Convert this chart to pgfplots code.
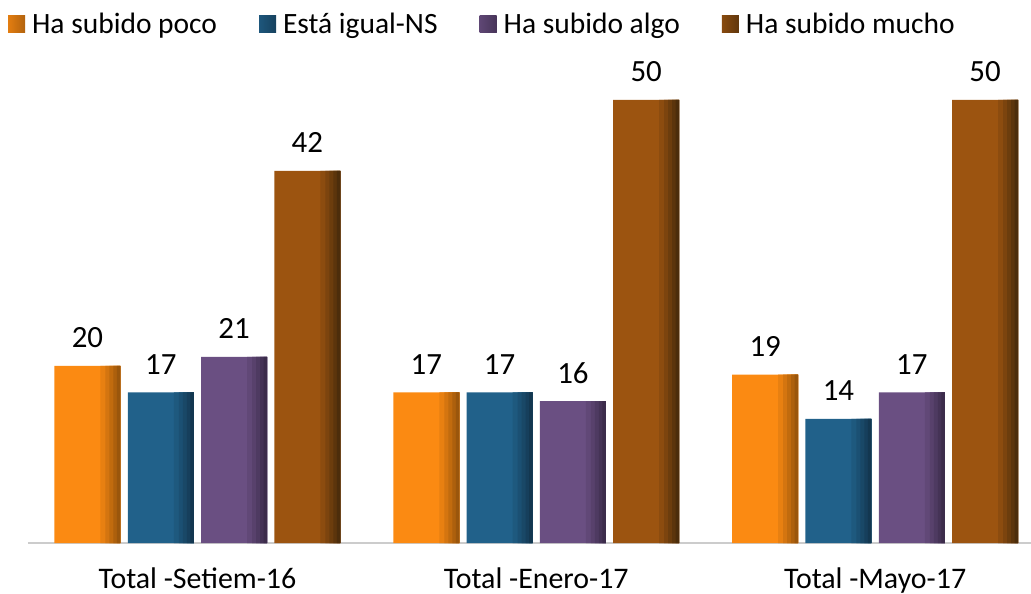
\documentclass[border=0pt]{standalone}
\usepackage{pgfplots}
\pgfplotsset{compat=1.18}
\usepackage{fontspec}
\setmainfont{Carlito}
\definecolor{cOr}{HTML}{FB8A12}
\definecolor{cOrD}{HTML}{9A560C}
\definecolor{cBl}{HTML}{21618A}
\definecolor{cBlD}{HTML}{133750}
\definecolor{cPu}{HTML}{6A4F82}
\definecolor{cPuD}{HTML}{3C2C4B}
\definecolor{cBr}{HTML}{9C5410}
\definecolor{cBrD}{HTML}{4C2D0B}
\pgfdeclarehorizontalshading{shOrL}{100bp}{color(0bp)=(cOr); color(100bp)=(cOrD)}
\pgfdeclarehorizontalshading{shBlL}{100bp}{color(0bp)=(cBl); color(100bp)=(cBlD)}
\pgfdeclarehorizontalshading{shPuL}{100bp}{color(0bp)=(cPu); color(100bp)=(cPuD)}
\pgfdeclarehorizontalshading{shBrL}{100bp}{color(0bp)=(cBr); color(100bp)=(cBrD)}
\pgfplotstableread{
x a b c d
0 20 17 21 42
1 17 17 16 50
2 19 14 17 50
}\datatab
\begin{document}
\begin{tikzpicture}
\useasboundingbox (0,0) rectangle (1031bp,594bp);
\begin{axis}[
  at={(28bp,51bp)}, anchor=south west,
  scale only axis, width=1003bp, height=487.3bp,
  xmin=-0.5, xmax=2.46, ymin=0, ymax=55,
  axis x line*=bottom, axis y line=none,
  x axis line style={draw=black!20, line width=1.5bp},
  xtick={0,1,2},
  xticklabels={Total -Setiem-16, Total -Enero-17, Total -Mayo-17},
  major tick length=0pt,
  xticklabel style={anchor=base, yshift=-45.5bp, font=\fontsize{30}{32}\selectfont},
  ytick=\empty,
  ybar, bar width=66bp,
  /pgf/number format/assume math mode=true,
  nodes near coords style={anchor=base, yshift=18bp, font=\fontsize{31}{33}\selectfont, text=black},
  legend columns=4,
  legend style={at={(axis description cs:-0.023,1.096)}, anchor=north west, draw=none,
    fill=none, font=\fontsize{29.6}{31}\selectfont,
    /tikz/every odd column/.append style={column sep=5bp},
    /tikz/every even column/.append style={column sep=40bp},
    cells={anchor=west}},
  legend cell align=left,
  clip=false,
]
% series 1
\addplot[draw=none, fill=cOr, bar shift=-109.95bp, nodes near coords,
  legend image code/.code={\path[shade, shading=shOrL] (0bp,-8.5bp) rectangle (17bp,8.5bp);}]
  table[x=x,y=a]{\datatab};
\addplot[forget plot, draw=none, fill=cOrD!20!cOr, bar width=20bp, bar shift=-86.95bp] table[x=x,y=a]{\datatab};
\addplot[forget plot, draw=none, fill=cOrD!40!cOr, bar width=15bp, bar shift=-84.45bp] table[x=x,y=a]{\datatab};
\addplot[forget plot, draw=none, fill=cOrD!60!cOr, bar width=11bp, bar shift=-82.45bp] table[x=x,y=a]{\datatab};
\addplot[forget plot, draw=none, fill=cOrD!80!cOr, bar width=7bp, bar shift=-80.45bp] table[x=x,y=a]{\datatab};
\addplot[forget plot, draw=none, fill=cOrD, bar width=3.5bp, bar shift=-78.7bp] table[x=x,y=a]{\datatab};
% series 2
\addplot[draw=none, fill=cBl, bar shift=-36.65bp, nodes near coords,
  legend image code/.code={\path[shade, shading=shBlL] (0bp,-8.5bp) rectangle (17bp,8.5bp);}]
  table[x=x,y=b]{\datatab};
\addplot[forget plot, draw=none, fill=cBlD!20!cBl, bar width=20bp, bar shift=-13.65bp] table[x=x,y=b]{\datatab};
\addplot[forget plot, draw=none, fill=cBlD!40!cBl, bar width=15bp, bar shift=-11.15bp] table[x=x,y=b]{\datatab};
\addplot[forget plot, draw=none, fill=cBlD!60!cBl, bar width=11bp, bar shift=-9.15bp] table[x=x,y=b]{\datatab};
\addplot[forget plot, draw=none, fill=cBlD!80!cBl, bar width=7bp, bar shift=-7.15bp] table[x=x,y=b]{\datatab};
\addplot[forget plot, draw=none, fill=cBlD, bar width=3.5bp, bar shift=-5.4bp] table[x=x,y=b]{\datatab};
% series 3
\addplot[draw=none, fill=cPu, bar shift=36.65bp, nodes near coords,
  legend image code/.code={\path[shade, shading=shPuL] (0bp,-8.5bp) rectangle (17bp,8.5bp);}]
  table[x=x,y=c]{\datatab};
\addplot[forget plot, draw=none, fill=cPuD!20!cPu, bar width=20bp, bar shift=59.65bp] table[x=x,y=c]{\datatab};
\addplot[forget plot, draw=none, fill=cPuD!40!cPu, bar width=15bp, bar shift=62.15bp] table[x=x,y=c]{\datatab};
\addplot[forget plot, draw=none, fill=cPuD!60!cPu, bar width=11bp, bar shift=64.15bp] table[x=x,y=c]{\datatab};
\addplot[forget plot, draw=none, fill=cPuD!80!cPu, bar width=7bp, bar shift=66.15bp] table[x=x,y=c]{\datatab};
\addplot[forget plot, draw=none, fill=cPuD, bar width=3.5bp, bar shift=67.9bp] table[x=x,y=c]{\datatab};
% series 4
\addplot[draw=none, fill=cBr, bar shift=109.95bp, nodes near coords,
  legend image code/.code={\path[shade, shading=shBrL] (0bp,-8.5bp) rectangle (17bp,8.5bp);}]
  table[x=x,y=d]{\datatab};
\addplot[forget plot, draw=none, fill=cBrD!20!cBr, bar width=20bp, bar shift=132.95bp] table[x=x,y=d]{\datatab};
\addplot[forget plot, draw=none, fill=cBrD!40!cBr, bar width=15bp, bar shift=135.45bp] table[x=x,y=d]{\datatab};
\addplot[forget plot, draw=none, fill=cBrD!60!cBr, bar width=11bp, bar shift=137.45bp] table[x=x,y=d]{\datatab};
\addplot[forget plot, draw=none, fill=cBrD!80!cBr, bar width=7bp, bar shift=139.45bp] table[x=x,y=d]{\datatab};
\addplot[forget plot, draw=none, fill=cBrD, bar width=3.5bp, bar shift=141.2bp] table[x=x,y=d]{\datatab};
\legend{Ha subido poco, Está igual-NS, Ha subido algo, Ha subido mucho}
\end{axis}
\end{tikzpicture}
\end{document}
